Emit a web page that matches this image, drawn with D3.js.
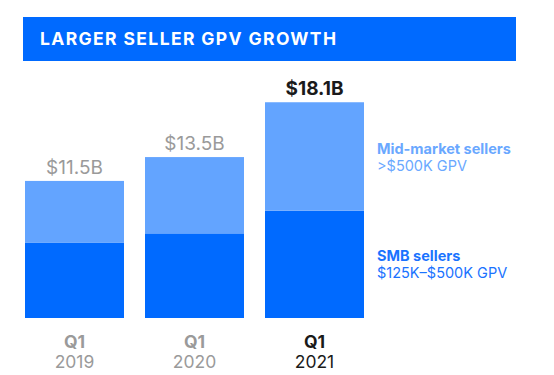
<!DOCTYPE html>
<html>
<head>
<meta charset="utf-8">
<script src="https://cdn.jsdelivr.net/npm/d3@7"></script>
<style>
  html, body { margin: 0; padding: 0; background: #fff; }
  svg { display: block; }
  text { font-family: Inter, "Open Sans", sans-serif; }
</style>
</head>
<body>
<svg id="chart" width="554" height="375"></svg>
<script>
const title = "LARGER SELLER GPV GROWTH";
const quarters = ["Q1", "Q1", "Q1"];
const years = ["2019", "2020", "2021"];
const smbValues = [6.3, 7.1, 9.0];
const totalValues = [11.5, 13.5, 18.1];
const totalLabels = ["$11.5B", "$13.5B", "$18.1B"];
const legendNames = ["Mid-market sellers", "SMB sellers"];
const legendSubs = [">$500K GPV", "$125K\u2013$500K GPV"];

const midValues = totalValues.map((t, i) => +(t - smbValues[i]).toFixed(1));

const svg = d3.select("#chart");
const DARK = "#006AFF", LIGHT = "#63A4FF";

// Title banner
svg.append("rect").attr("x", 23).attr("y", 17).attr("width", 493).attr("height", 44).attr("fill", DARK);
svg.append("text").attr("x", 40).attr("y", 45)
  .attr("fill", "#fff").attr("font-weight", 700).attr("font-size", 17.5)
  .attr("textLength", 296).attr("lengthAdjust", "spacing")
  .text(title);

const x = d3.scaleBand().domain(years).range([25, 364]).paddingInner(0.175).paddingOuter(0);
const y = d3.scaleLinear().domain([0, 20]).range([318, 318 - 20 * 11.92]);

const stacked = d3.stack().keys(["smb", "mid"])(years.map((yr, i) => ({ year: yr, smb: smbValues[i], mid: midValues[i] })));
const colors = { smb: DARK, mid: LIGHT };

svg.append("g").selectAll("g").data(stacked).join("g")
  .attr("fill", d => colors[d.key])
  .selectAll("rect").data(d => d).join("rect")
  .attr("x", d => x(d.data.year))
  .attr("width", x.bandwidth())
  .attr("y", d => y(d[1]))
  .attr("height", d => y(d[0]) - y(d[1]));

// total labels
svg.append("g").selectAll("text").data(years).join("text")
  .attr("x", d => x(d) + x.bandwidth() / 2)
  .attr("y", (d, i) => y(totalValues[i]) - 7)
  .attr("text-anchor", "middle")
  .attr("font-size", 19)
  .attr("font-weight", (d, i) => i === 2 ? 700 : 400)
  .attr("fill", (d, i) => i === 2 ? "#1a1a1a" : "#9a9a9a")
  .text((d, i) => totalLabels[i]);

// x labels
const xl = svg.append("g").selectAll("g").data(years).join("g");
xl.append("text")
  .attr("x", d => x(d) + x.bandwidth() / 2).attr("y", 347.5)
  .attr("text-anchor", "middle").attr("font-size", 17.5).attr("font-weight", 700)
  .attr("fill", (d, i) => i === 2 ? "#1a1a1a" : "#9a9a9a")
  .text((d, i) => quarters[i]);
xl.append("text")
  .attr("x", d => x(d) + x.bandwidth() / 2).attr("y", 367.5)
  .attr("text-anchor", "middle").attr("font-size", 17.5).attr("font-weight", 400)
  .attr("fill", (d, i) => i === 2 ? "#1a1a1a" : "#9a9a9a")
  .text(d => d);

// legend
const legY = [153.5, 260.5];
const legColors = ["#6AA8FF", "#1A73FF"];
legendNames.forEach((n, i) => {
  svg.append("text").attr("x", 377).attr("y", legY[i])
    .attr("font-size", 14.5).attr("font-weight", 700).attr("fill", legColors[i]).text(n);
  svg.append("text").attr("x", 377).attr("y", legY[i] + 17.5)
    .attr("font-size", 14.5).attr("font-weight", 400).attr("fill", legColors[i]).text(legendSubs[i]);
});
</script>
</body>
</html>
